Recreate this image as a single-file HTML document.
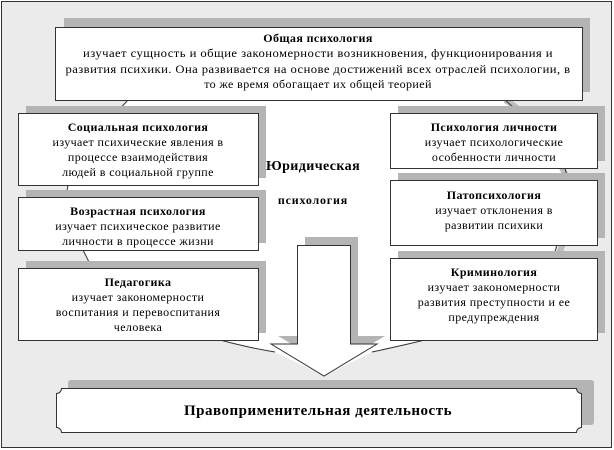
<!DOCTYPE html>
<html><head><meta charset="utf-8"><style>
html,body{margin:0;padding:0;background:#fff}
svg{display:block}
text{font-family:"Liberation Serif",serif;font-size:12px;fill:#000;letter-spacing:0.4px}
.b{font-weight:bold}
</style></head><body>
<svg width="614" height="450" viewBox="0 0 614 450" xmlns="http://www.w3.org/2000/svg">
<rect x="1.5" y="1.5" width="610" height="446" fill="#ebebeb" stroke="#333" stroke-width="1"/>
<line x1="611.5" y1="1" x2="611.5" y2="448" stroke="#333" stroke-dasharray="1,1"/>
<line x1="1" y1="447.5" x2="612" y2="447.5" stroke="#333" stroke-dasharray="1,1"/>
<polygon points="128,100 116,113 68,185 66,197 83,250 92,268 30,300 30,340 220,341 275,352 324,376 372,352 425,341 590,341 590,260 553,258 557,245 568,180 565,168 520,113 505,100" fill="#fff"/>
<path d="M505,100 Q540,120 568,180 Q575,220 557,258" fill="none" stroke="#bdbdbd" stroke-width="6"/>
<g stroke="#333" stroke-width="1" fill="none">
<line x1="128" y1="100" x2="116" y2="113"/>
<line x1="68" y1="185" x2="66" y2="197"/>
<line x1="83" y1="250" x2="92" y2="268"/>
<line x1="505" y1="100" x2="520" y2="113"/>
<line x1="565" y1="168" x2="568" y2="180"/>
<line x1="557" y1="245" x2="553" y2="258"/>
<path d="M220,340 Q250,348 275,352"/>
<path d="M372,352 Q400,346 425,340"/>
</g>
<g fill="#b4b4b4">
<rect x="64" y="18" width="526" height="74"/>
<rect x="26" y="106" width="240" height="72"/>
<rect x="26" y="190" width="240" height="53"/>
<rect x="26" y="261" width="240" height="72"/>
<rect x="398" y="106" width="207" height="55"/>
<rect x="398" y="173" width="207" height="65"/>
<rect x="398" y="251" width="207" height="82"/>
<polygon points="305,237 358,237 358,336 385,336 332,368 278,336 305,336"/>
<rect x="68" y="380" width="526" height="45" rx="3"/>
</g>
<g fill="#fff" stroke="#333" stroke-width="1">
<rect x="55.5" y="27.5" width="527" height="73"/>
<rect x="18.5" y="113.5" width="240" height="72"/>
<rect x="18.5" y="197.5" width="240" height="53"/>
<rect x="18.5" y="268.5" width="240" height="72"/>
<rect x="390.5" y="113.5" width="207" height="55"/>
<rect x="390.5" y="180.5" width="207" height="65"/>
<rect x="390.5" y="258.5" width="207" height="82"/>
<polygon points="297.5,245.5 350.5,245.5 350.5,344 377,344 324,376 271,344 297.5,344"/>
<path d="M61.5,388.5 H576.5 A5,5 0 0 0 581.5,393.5 V427.5 A5,5 0 0 0 576.5,432.5 H61.5 A5,5 0 0 0 56.5,427.5 V393.5 A5,5 0 0 0 61.5,388.5 Z"/>
</g>
<g text-anchor="middle">
<text x="318" y="42" class="b">Общая психология</text>
<text x="318" y="57" textLength="470" lengthAdjust="spacingAndGlyphs">изучает сущность и общие закономерности возникновения, функционирования и</text>
<text x="318" y="73" textLength="505" lengthAdjust="spacingAndGlyphs">развития психики. Она развивается на основе достижений всех отраслей психологии, в</text>
<text x="318" y="88">то же время обогащает их общей теорией</text>

<text x="138" y="131" class="b">Социальная психология</text>
<text x="138" y="146">изучает психические явления в</text>
<text x="138" y="161">процессе взаимодействия</text>
<text x="138" y="176">людей в социальной группе</text>

<text x="138" y="215" class="b">Возрастная психология</text>
<text x="138" y="230">изучает психическое развитие</text>
<text x="138" y="245">личности в процессе жизни</text>

<text x="138" y="286" class="b">Педагогика</text>
<text x="138" y="301">изучает закономерности</text>
<text x="138" y="316">воспитания и перевоспитания</text>
<text x="138" y="331">человека</text>

<text x="494" y="131" class="b">Психология личности</text>
<text x="494" y="146">изучает психологические</text>
<text x="494" y="161">особенности личности</text>

<text x="494" y="199" class="b">Патопсихология</text>
<text x="494" y="214">изучает отклонения в</text>
<text x="494" y="229">развитии психики</text>

<text x="494" y="276" class="b">Криминология</text>
<text x="494" y="291">изучает закономерности</text>
<text x="494" y="306">развития преступности и ее</text>
<text x="494" y="321">предупреждения</text>

<text x="313" y="170" class="b" style="font-size:14px">Юридическая</text>
<text x="313" y="204" class="b" style="font-size:12px;letter-spacing:0.8px">психология</text>

<text x="318" y="415" class="b" style="font-size:15px;letter-spacing:0.5px">Правоприменительная деятельность</text>
</g>
</svg>
</body></html>
